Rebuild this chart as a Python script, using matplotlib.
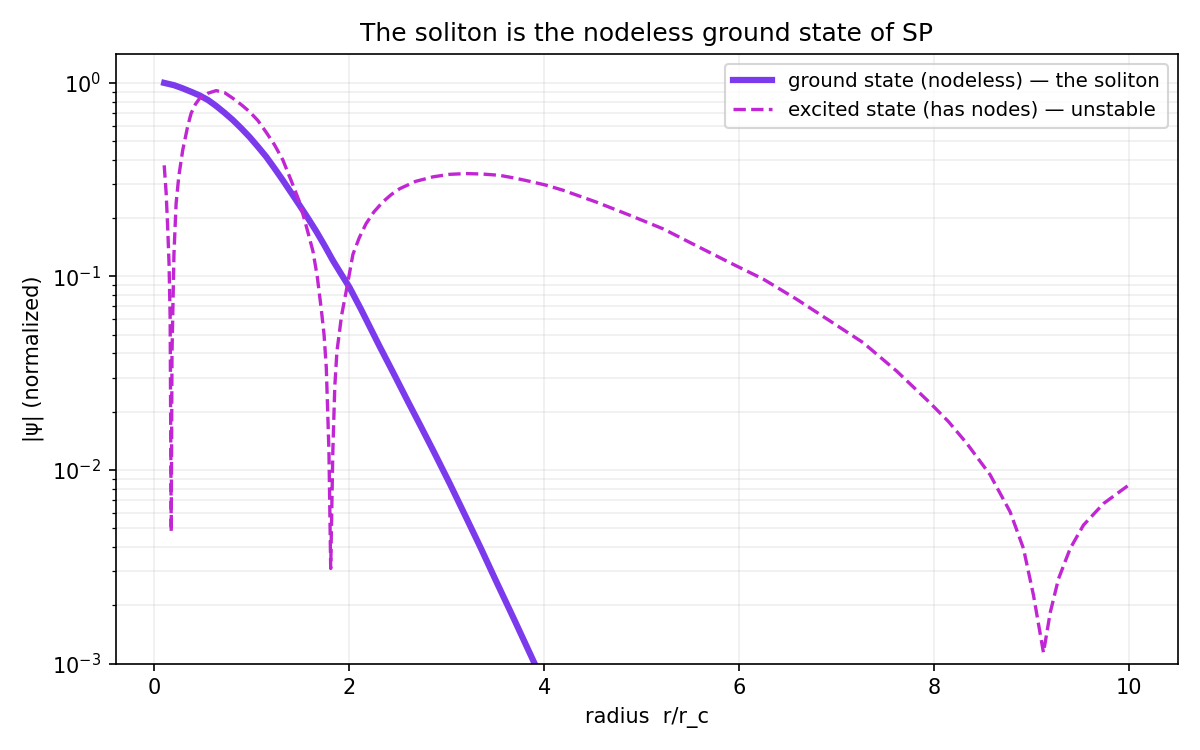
import matplotlib
matplotlib.use("Agg")
import matplotlib.pyplot as plt

# values (radius in units of r_c, |psi| normalized)
r_ground = [0.1, 0.2, 0.29, 0.38, 0.462, 0.55, 0.633, 0.72, 0.804, 0.89, 0.975,
            1.06, 1.147, 1.23, 1.317, 1.4, 1.489, 1.575, 1.66, 1.745, 1.83,
            1.915, 2.0, 2.12, 2.31, 2.45, 2.6, 2.73, 2.86, 3.03, 3.2, 3.35, 3.5,
            3.7, 3.9, 4.0]
psi_ground = [1.0, 0.973, 0.937, 0.898, 0.862, 0.815, 0.76, 0.70, 0.643, 0.583,
              0.526, 0.469, 0.415, 0.363, 0.314, 0.272, 0.233, 0.2, 0.171, 0.1445,
              0.121, 0.103, 0.088, 0.0675, 0.0435, 0.0318, 0.0226, 0.0169,
              0.0126, 0.0085, 0.00565, 0.00393, 0.0027, 0.00165, 0.001, 0.00079]

r_excited = [0.1, 0.12, 0.137, 0.15, 0.161, 0.172, 0.18, 0.2, 0.222, 0.25, 0.29,
             0.342, 0.376, 0.42, 0.462, 0.55, 0.633, 0.72, 0.804, 0.9, 0.975,
             1.06, 1.147, 1.23, 1.317, 1.4, 1.489, 1.56, 1.626, 1.67, 1.711,
             1.74, 1.763, 1.79, 1.808, 1.83, 1.85, 1.872, 1.92, 1.968, 2.036,
             2.1, 2.17, 2.25, 2.34, 2.43, 2.516, 2.68, 2.857, 3.03, 3.2, 3.37,
             3.54, 3.7, 3.85, 4.02, 4.19, 4.535, 4.877, 5.22, 5.56, 5.9, 6.245,
             6.587, 6.93, 7.27, 7.615, 7.957, 8.145, 8.33, 8.573, 8.778, 8.915,
             9.018, 9.12, 9.19, 9.274, 9.394, 9.53, 9.736, 10.0]
psi_excited = [0.375, 0.27, 0.173, 0.115, 0.061, 0.0048, 0.04, 0.13, 0.238,
               0.33, 0.449, 0.6, 0.696, 0.775, 0.83, 0.885, 0.912, 0.89, 0.833,
               0.765, 0.71, 0.64, 0.555, 0.48, 0.40, 0.315, 0.242, 0.18, 0.135,
               0.1, 0.068, 0.05, 0.0337, 0.0125, 0.0031, 0.0125, 0.027, 0.041,
               0.063, 0.0843, 0.13, 0.158, 0.187, 0.215, 0.242, 0.265, 0.284,
               0.31, 0.327, 0.337, 0.34, 0.338, 0.333, 0.322, 0.31, 0.296, 0.279,
               0.242, 0.207, 0.176, 0.144, 0.118, 0.0969, 0.0763, 0.0589, 0.0455,
               0.0324, 0.0222, 0.0178, 0.0138, 0.00944, 0.00608, 0.00393,
               0.00225, 0.00114, 0.00184, 0.00274, 0.00393, 0.00519, 0.00671,
               0.0084]

fig, ax = plt.subplots(figsize=(8, 5), dpi=150)

ax.plot(r_ground, psi_ground, color="#7c3aed", lw=3,
        label="ground state (nodeless) — the soliton")
ax.plot(r_excited, psi_excited, color="#c026d3", lw=1.6, ls="--",
        label="excited state (has nodes) — unstable")

ax.set_yscale("log")
ax.set_ylim(1e-3, 1.41)
ax.set_xlabel("radius  r/r_c")
ax.set_ylabel("|ψ| (normalized)")
ax.set_title("The soliton is the nodeless ground state of SP")
ax.grid(True, which="both", alpha=0.2)
ax.legend(loc="upper right", fontsize=9.5)

plt.tight_layout()
plt.savefig("out.png")
